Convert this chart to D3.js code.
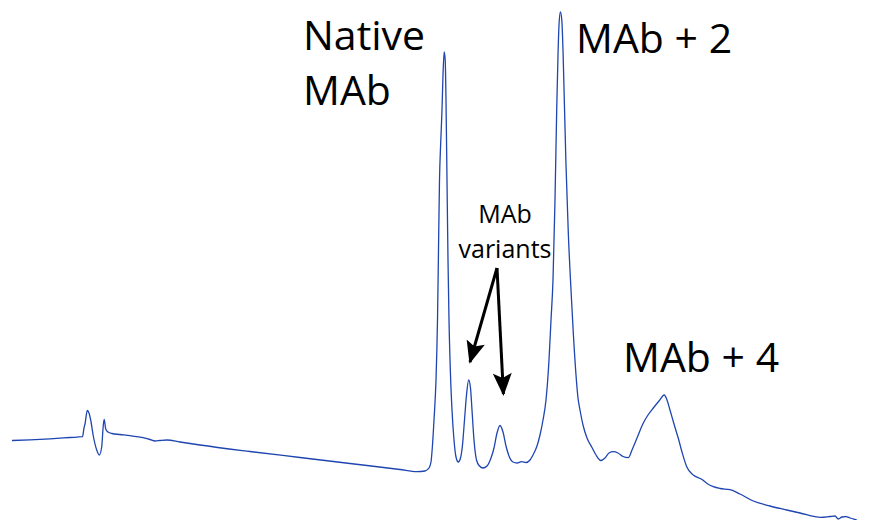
<!DOCTYPE html>
<html>
<head>
<meta charset="utf-8">
<script src="https://cdn.jsdelivr.net/npm/d3@7"></script>
<style>
    html, body { margin: 0; padding: 0; background: #fff; }
    text { font-family: "Open Sans", sans-serif; fill: #000; }
</style>
</head>
<body>
<div id="chart"></div>
<script>
// retention time (min) and absorbance (mAU)
var time = [0.10, 1.00, 2.00, 3.00, 3.625, 3.70, 3.75, 3.865, 3.95, 4.035, 4.165, 4.335, 4.465, 4.585, 4.665, 4.71, 4.785, 4.90, 5.10, 5.50,
    6.00, 6.65, 7.00, 7.25, 7.50, 7.85, 8.50, 9.50, 12.00, 14.50, 17.00, 19.50, 20.35, 20.75, 20.95, 21.05, 21.125, 21.20, 21.30, 21.375,
    21.425, 21.475, 21.535, 21.60, 21.65, 21.71, 21.76, 21.80, 21.85, 21.90, 21.95, 22.025, 22.10, 22.20, 22.30, 22.415, 22.525, 22.625, 22.725, 22.825,
    22.935, 23.025, 23.10, 23.20, 23.325, 23.475, 23.65, 23.85, 24.05, 24.20, 24.35, 24.50, 24.65, 24.80, 24.95, 25.15, 25.35, 25.585, 25.80, 26.00,
    26.15, 26.35, 26.50, 26.65, 26.80, 26.95, 27.05, 27.15, 27.25, 27.335, 27.40, 27.45, 27.52, 27.59, 27.65, 27.715, 27.80, 27.915, 28.05, 28.165,
    28.30, 28.40, 28.50, 28.65, 28.85, 29.085, 29.30, 29.535, 29.75, 29.95, 30.165, 30.40, 30.65, 30.915, 31.10, 31.35, 31.665, 31.90, 32.165, 32.45,
    32.715, 32.85, 33.00, 33.20, 33.415, 33.60, 33.835, 34.165, 34.585, 34.85, 35.165, 35.50, 36.00, 36.50, 37.165, 38.00, 38.835, 39.50, 40.55, 41.00,
    41.25, 41.415, 41.60, 41.80, 42.00, 42.335];
var absorb = [7.95, 8.02, 8.12, 8.25, 8.33, 9.20, 9.60, 10.95, 10.70, 10.00, 8.40, 7.00, 6.50, 7.30, 9.50, 10.07, 9.10, 8.80, 8.65, 8.55,
    8.43, 8.23, 8.05, 7.90, 7.95, 8.00, 7.80, 7.50, 6.85, 6.25, 5.65, 5.05, 4.83, 4.90, 5.20, 5.80, 7.50, 10.00, 14.00, 20.00,
    27.00, 34.00, 37.70, 41.00, 44.50, 46.80, 46.00, 42.00, 34.00, 26.00, 20.00, 14.50, 11.00, 8.00, 6.30, 5.80, 6.20, 7.50, 10.00, 12.50,
    14.00, 13.20, 11.00, 8.00, 6.00, 5.40, 5.20, 5.40, 6.20, 7.20, 8.70, 9.45, 8.80, 7.40, 6.40, 5.80, 5.70, 5.83, 5.75, 6.00,
    6.50, 7.40, 8.50, 10.00, 12.00, 16.00, 20.00, 24.00, 32.00, 41.00, 46.50, 49.50, 50.80, 50.00, 47.00, 42.00, 35.50, 28.70, 23.00, 18.70,
    14.50, 12.20, 11.00, 9.50, 8.20, 7.30, 6.50, 5.95, 6.20, 6.70, 6.83, 6.70, 6.35, 6.23, 7.00, 8.20, 9.70, 10.50, 11.20, 11.90,
    12.50, 12.00, 11.00, 9.60, 8.17, 6.80, 5.33, 4.50, 4.07, 3.65, 3.33, 3.15, 3.03, 2.60, 1.90, 1.40, 1.00, 0.70, 0.27, 0.35,
    0.40, 0.10, 0.30, 0.33, 0.20, 0.00];

var data = time.map(function(t, i) { return {t: t, a: absorb[i]}; });

var width = 869;
var height = 520;

var x = d3.scaleLinear()
    .domain([0, 42.5])
    .range([10, 860]);

var y = d3.scaleLinear()
    .domain([0, 51])
    .range([520, 10]);

var svg = d3.select("#chart").append("svg")
    .attr("width", width)
    .attr("height", height);

var line = d3.line()
    .curve(d3.curveMonotoneX)
    .x(function(d) { return x(d.t); })
    .y(function(d) { return y(d.a); });

svg.append("path")
    .datum(data)
    .attr("fill", "none")
    .attr("stroke", "#1f45b0")
    .attr("stroke-width", 1.3)
    .attr("d", line);

// peak labels
svg.append("text").attr("x", x(14.65)).attr("y", y(47)).attr("font-size", 41).text("Native");
svg.append("text").attr("x", x(14.65)).attr("y", y(41.5)).attr("font-size", 41).text("MAb");
svg.append("text").attr("x", x(28.3)).attr("y", y(46.7)).attr("font-size", 41).text("MAb + 2");
svg.append("text").attr("x", x(30.65)).attr("y", y(14.8)).attr("font-size", 41).text("MAb + 4");

svg.append("text").attr("x", x(24.75)).attr("y", y(29.7)).attr("font-size", 25)
    .attr("text-anchor", "middle").text("MAb");
svg.append("text").attr("x", x(24.75)).attr("y", y(26.2)).attr("font-size", 25)
    .attr("text-anchor", "middle").text("variants");

// arrows to the two variant peaks
svg.append("defs").append("marker")
    .attr("id", "head")
    .attr("viewBox", "0 0 12 10")
    .attr("refX", 11).attr("refY", 5)
    .attr("markerWidth", 8).attr("markerHeight", 6.3)
    .attr("markerUnits", "strokeWidth")
    .attr("orient", "auto")
    .append("path")
    .attr("d", "M0,0 L12,5 L0,10 L2.5,5 Z")
    .attr("fill", "#000");

var arrowFrom = {t: 24.35, a: 25.2};
var arrowTo = [{t: 23.0, a: 15.8}, {t: 24.67, a: 12.6}];

svg.selectAll(".arrow")
    .data(arrowTo)
    .enter().append("line")
    .attr("class", "arrow")
    .attr("x1", x(arrowFrom.t))
    .attr("y1", y(arrowFrom.a))
    .attr("x2", function(d) { return x(d.t); })
    .attr("y2", function(d) { return y(d.a); })
    .attr("stroke", "#000")
    .attr("stroke-width", 3)
    .attr("marker-end", "url(#head)");
</script>
</body>
</html>
